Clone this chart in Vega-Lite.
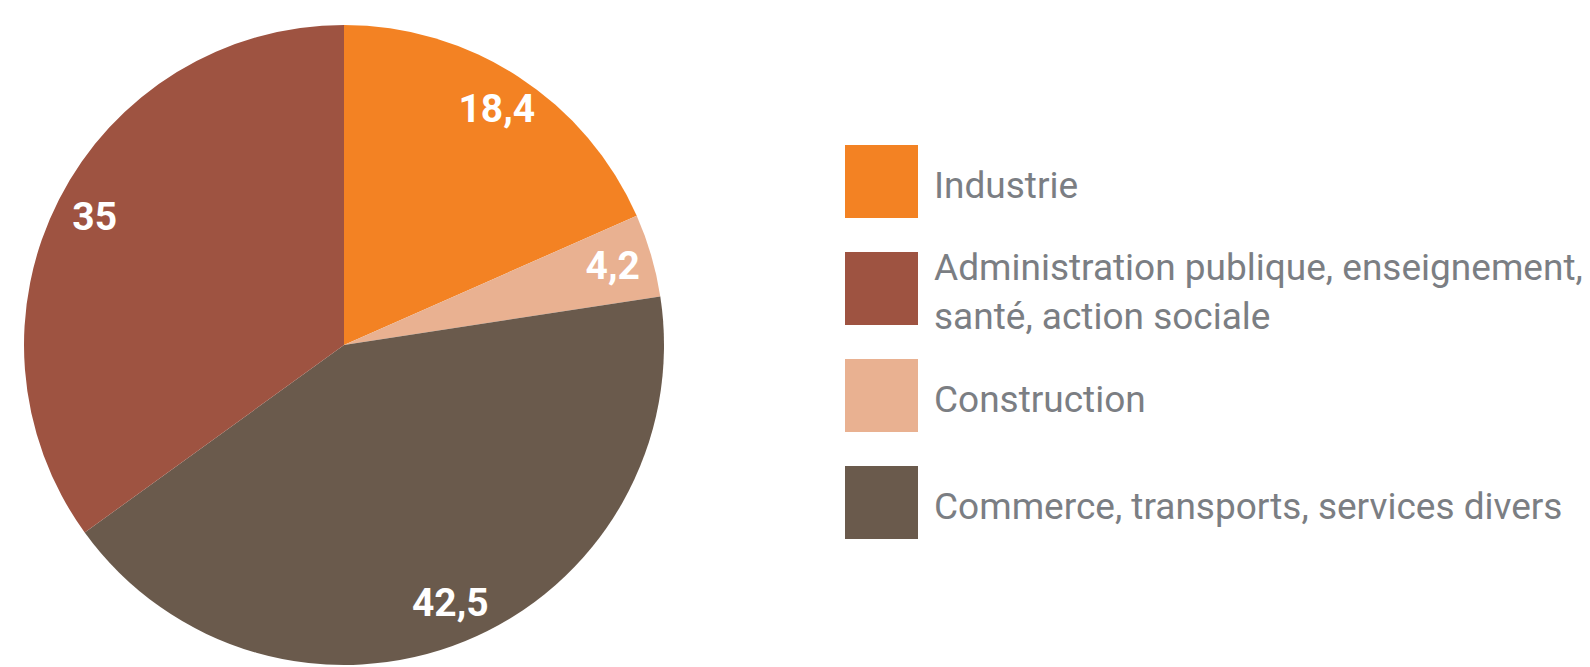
{
  "$schema": "https://vega.github.io/schema/vega-lite/v6.json",
  "autosize": {"type": "none"},
  "padding": {"left": 24, "top": 23, "right": 926, "bottom": 0},
  "width": 640,
  "height": 644,
  "background": "white",
  "config": {
    "view": {"stroke": null},
    "style": {"guide-label": {"lineHeight": 24.5, "dy": -19.5}},
    "locale": {"number": {"decimal": ",", "thousands": " ", "grouping": [3], "currency": ["", " €"]}}
  },
  "data": {
    "values": [
      {"secteur": "Industrie", "part": 18.4, "ordre": 1},
      {"secteur": "Construction", "part": 4.2, "ordre": 2},
      {"secteur": "Commerce, transports, services divers", "part": 42.5, "ordre": 3},
      {"secteur": "Administration publique, enseignement, santé, action sociale", "part": 35, "ordre": 4}
    ]
  },
  "encoding": {
    "theta": {"field": "part", "type": "quantitative", "stack": true},
    "order": {"field": "ordre", "type": "quantitative"}
  },
  "layer": [
    {
      "mark": {"type": "arc", "radius": 320},
      "encoding": {
        "color": {
          "field": "secteur",
          "type": "nominal",
          "scale": {
            "domain": ["Industrie", "Administration publique, enseignement, santé, action sociale", "Construction", "Commerce, transports, services divers"],
            "range": ["#F38223", "#9E5341", "#E9B191", "#6A5A4C"]
          },
          "legend": {
            "title": null,
            "orient": "none",
            "legendX": 821,
            "legendY": 108.5,
            "padding": 0,
            "clipHeight": 100,
            "symbolType": "square",
            "symbolSize": 5329,
            "symbolStrokeWidth": 0,
            "symbolOpacity": 1,
            "labelFont": "Roboto",
            "labelFontSize": 37,
            "labelColor": "#7B7E83",
            "labelLimit": 900,
            "labelOffset": 16,
            "rowPadding": 7,
            "labelExpr": "datum.label == 'Administration publique, enseignement, santé, action sociale' ? ['Administration publique, enseignement,', '\u2800', 'santé, action sociale'] : ['', datum.label]"
          }
        }
      }
    },
    {
      "mark": {"type": "text", "radius": 280, "fontSize": 39, "fontWeight": "bold", "font": "Roboto"},
      "encoding": {
        "text": {"field": "part", "type": "quantitative", "format": ".1~f"},
        "color": {"value": "white"}
      }
    }
  ]
}
